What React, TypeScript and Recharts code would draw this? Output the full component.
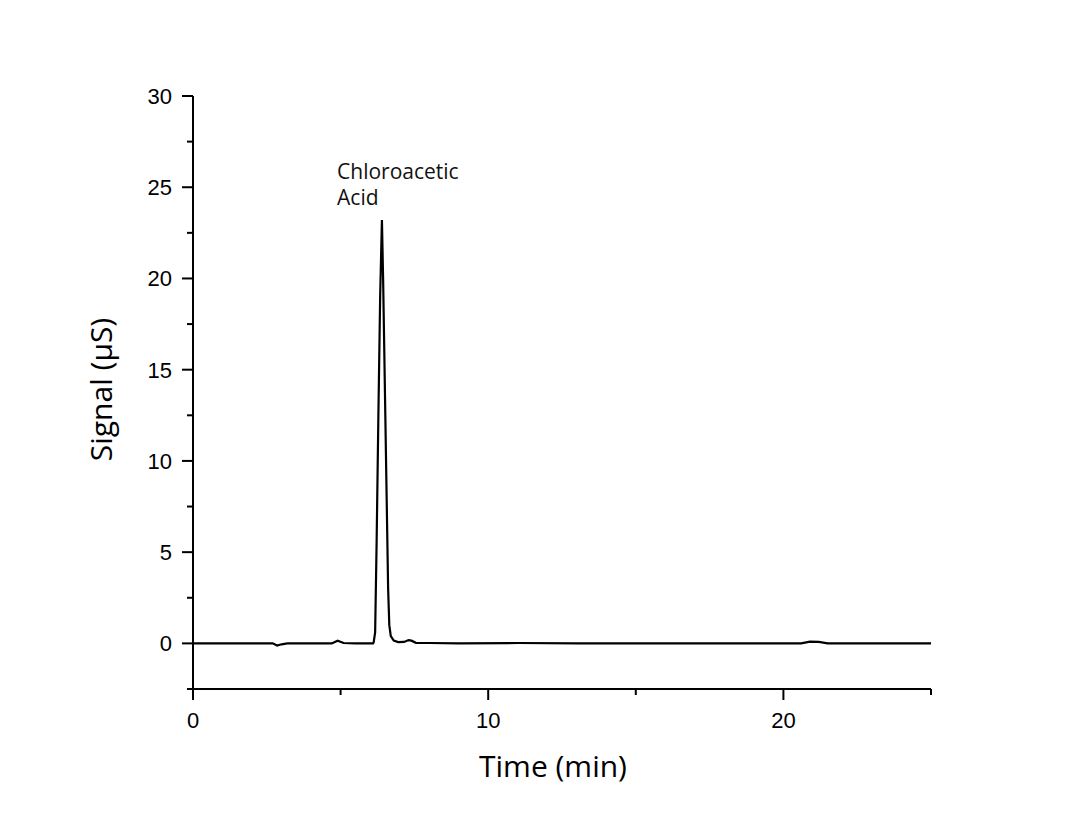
import React from "react";
import { LineChart, Line, XAxis, YAxis, ReferenceDot } from "recharts";

// retention time (min) and conductivity signal (µS)
const times = [
  0, 2.7, 2.85, 3.0, 3.2, 4.7, 4.9, 5.1, 5.5, 6.1, 6.12, 6.17, 6.22, 6.28, 6.34,
  6.4, 6.44, 6.5, 6.56, 6.61, 6.65, 6.7, 6.8, 6.95, 7.15, 7.3, 7.4, 7.55, 8.0,
  9.0, 11.0, 13.0, 20.6, 20.9, 21.2, 21.5, 25,
];
const signal = [
  0, 0, -0.12, -0.05, 0, 0, 0.15, 0.02, 0, 0, 0.05, 0.6, 5.5, 12.5, 19.0, 23.2,
  20.0, 14.0, 8.0, 3.0, 1.0, 0.4, 0.15, 0.07, 0.08, 0.18, 0.15, 0.03, 0.02, 0,
  0.02, 0, 0, 0.1, 0.08, 0, 0,
];

const xTicks = [0, 5, 10, 15, 20, 25];
const xLabeled = [0, 10, 20];
const yTicks = [-2.5, 0, 2.5, 5, 7.5, 10, 12.5, 15, 17.5, 20, 22.5, 25, 27.5, 30];
const yLabeled = [0, 5, 10, 15, 20, 25, 30];

const peakName = ["Chloroacetic", "Acid"];

const data = times.map((t, i) => ({ t, v: signal[i] }));

const tickFont = "'Liberation Sans', Arial, sans-serif";
const labelFont = "'Open Sans', 'Noto Sans', sans-serif";

const XTick = (props: any) => {
  const { x, y, payload } = props;
  const major = xLabeled.includes(payload.value);
  return (
    <g>
      <line x1={x} y1={y} x2={x} y2={y + (major ? 11 : 6)} stroke="#000" strokeWidth={2} />
      {major && (
        <text x={x} y={y + 39} textAnchor="middle" fontSize={22} fontFamily={tickFont} fill="#000">
          {payload.value}
        </text>
      )}
    </g>
  );
};

const YTick = (props: any) => {
  const { x, y, payload } = props;
  const major = yLabeled.includes(payload.value);
  return (
    <g>
      <line x1={x} y1={y} x2={x - (major ? 11 : 6)} y2={y} stroke="#000" strokeWidth={2} />
      {major && (
        <text x={x - 21} y={y + 8} textAnchor="end" fontSize={22} fontFamily={tickFont} fill="#000">
          {payload.value}
        </text>
      )}
    </g>
  );
};

const XTitle = (props: any) => {
  const vb = props.viewBox;
  return (
    <text x={vb.x + vb.width / 2 - 9} y={vb.y + 88} textAnchor="middle" fontSize={30} fontFamily={labelFont} fill="#000">
      Time (min)
    </text>
  );
};

const YTitle = (props: any) => {
  const vb = props.viewBox;
  const cx = vb.x + vb.width - 81;
  const cy = vb.y + vb.height / 2 - 3;
  return (
    <text x={cx} y={cy} transform={`rotate(-90 ${cx} ${cy})`} textAnchor="middle" fontSize={30} fontFamily={labelFont} fill="#000">
      Signal (μS)
    </text>
  );
};

const PeakLabel = (props: any) => {
  const { cx, cy } = props;
  return (
    <text x={cx} y={cy} fontSize={21} fontFamily={labelFont} fill="#111">
      <tspan x={cx}>{peakName[0]}</tspan>
      <tspan x={cx} dy={26}>{peakName[1]}</tspan>
    </text>
  );
};

export default function App() {
  return (
    <div style={{ position: "absolute", left: 0, top: 0, width: 1080, height: 826, background: "#fff" }}>
      <LineChart
        width={1080}
        height={826}
        data={data}
        margin={{ top: 96, right: 149, bottom: 77, left: 133 }}
      >
        <XAxis
          dataKey="t"
          type="number"
          domain={[0, 25]}
          ticks={xTicks}
          interval={0}
          height={60}
          tickSize={0}
          tickMargin={0}
          tickLine={false}
          tick={<XTick />}
          axisLine={{ stroke: "#000", strokeWidth: 2 }}
          label={<XTitle />}
        />
        <YAxis
          type="number"
          domain={[-2.5, 30]}
          ticks={yTicks}
          interval={0}
          width={60}
          tickSize={0}
          tickMargin={0}
          tickLine={false}
          tick={<YTick />}
          axisLine={{ stroke: "#000", strokeWidth: 2 }}
          label={<YTitle />}
        />
        <Line
          type="linear"
          dataKey="v"
          stroke="#000"
          strokeWidth={2.2}
          dot={false}
          isAnimationActive={false}
        />
        <ReferenceDot x={4.88} y={25.45} r={0} shape={<PeakLabel />} />
      </LineChart>
    </div>
  );
}
